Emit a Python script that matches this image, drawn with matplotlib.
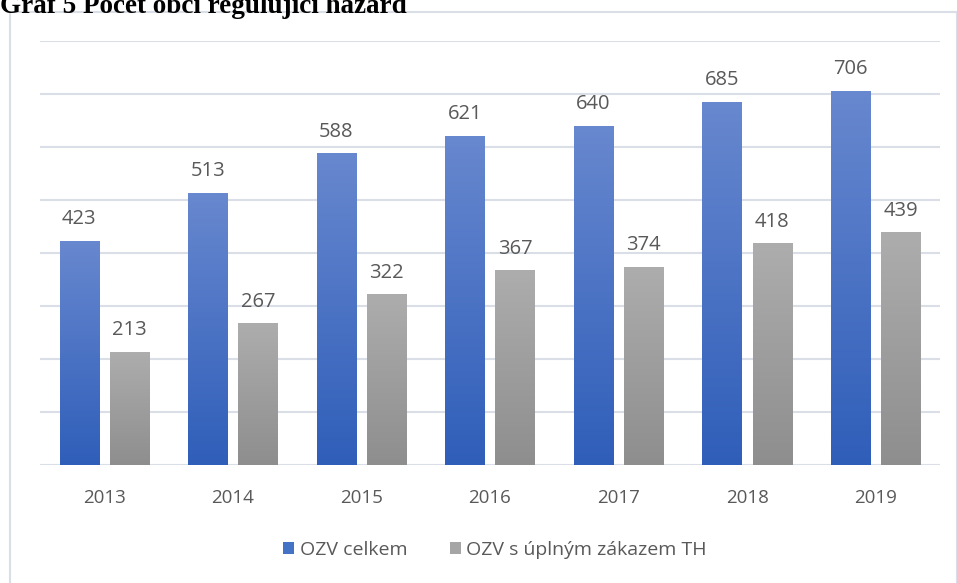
import numpy as np
import matplotlib
matplotlib.use("Agg")
import matplotlib.pyplot as plt
from matplotlib.patches import Rectangle, Patch
from matplotlib.colors import LinearSegmentedColormap

# data
years = ["2013", "2014", "2015", "2016", "2017", "2018", "2019"]
ozv_celkem = [423, 513, 588, 621, 640, 685, 706]
ozv_zakaz = [213, 267, 322, 367, 374, 418, 439]

plt.rcParams['font.family'] = ['Open Sans', 'DejaVu Sans']
text_col = "#595959"
line_col = "#dadee6"

fig = plt.figure(figsize=(9.57, 5.83), dpi=100)
ax = fig.add_axes([40 / 957, 1 - 465 / 583, 900 / 957, (465 - 41) / 583])

# chart frame
fig.patches.append(Rectangle((10 / 957, -0.01), 0.99, 1 - 12 / 583 + 0.01,
                             transform=fig.transFigure, fill=False,
                             edgecolor=line_col, linewidth=1.5, zorder=0))

# title (cut off at the top in the reference)
fig.text(0.0, 1 - 13 / 583, "Graf 5 Počet obcí regulující hazard",
         family=['Liberation Serif', 'DejaVu Serif'], weight='bold',
         fontsize=19.5, color="black", va='baseline', ha='left')

blue_cmap = LinearSegmentedColormap.from_list("b", ["#2f5eb9", "#6888cf"])
gray_cmap = LinearSegmentedColormap.from_list("g", ["#8e8e8e", "#adadad"])
grad = np.linspace(0, 1, 256).reshape(-1, 1)

x = np.arange(len(years))
w = 0.305
off = 0.195

def grad_bars(xs, vals, cmap):
    bars = ax.bar(xs, vals, w, color="none", edgecolor="none", zorder=3)
    for b in bars:
        x0, y0 = b.get_x(), b.get_y()
        im = ax.imshow(grad, cmap=cmap, origin='lower', aspect='auto',
                       extent=[x0, x0 + b.get_width(), y0, y0 + b.get_height()],
                       zorder=3)
        im.set_clip_path(b)
    return bars

grad_bars(x - off, ozv_celkem, blue_cmap)
grad_bars(x + off, ozv_zakaz, gray_cmap)

for xi, v in zip(x - off, ozv_celkem):
    ax.text(xi, v + 22, str(v), ha='center', va='bottom', fontsize=14.5, color=text_col)
for xi, v in zip(x + off, ozv_zakaz):
    ax.text(xi, v + 22, str(v), ha='center', va='bottom', fontsize=14.5, color=text_col)

ax.set_xlim(-0.5, len(years) - 0.5)
ax.set_ylim(0, 800)
ax.set_yticks(range(0, 801, 100))
ax.yaxis.grid(True, color=line_col, linewidth=1.5)
ax.set_axisbelow(True)
ax.tick_params(axis='y', left=False, labelleft=False)
ax.set_xticks(x)
ax.set_xticklabels(years, fontsize=13.5, color=text_col)
ax.tick_params(axis='x', length=0, pad=17)
for s in ax.spines.values():
    s.set_visible(False)
ax.set_facecolor("none")

handles = [Patch(facecolor="#4472c4"), Patch(facecolor="#a5a5a5")]
fig.legend(handles, ["OZV celkem", "OZV s úplným zákazem TH"],
           loc='center', bbox_to_anchor=(495 / 957, 1 - 550 / 583), ncol=2,
           frameon=False, fontsize=14, labelcolor=text_col,
           handlelength=0.55, handleheight=0.55, handletextpad=0.3,
           columnspacing=2.2)

fig.savefig("out.png", dpi=100)
